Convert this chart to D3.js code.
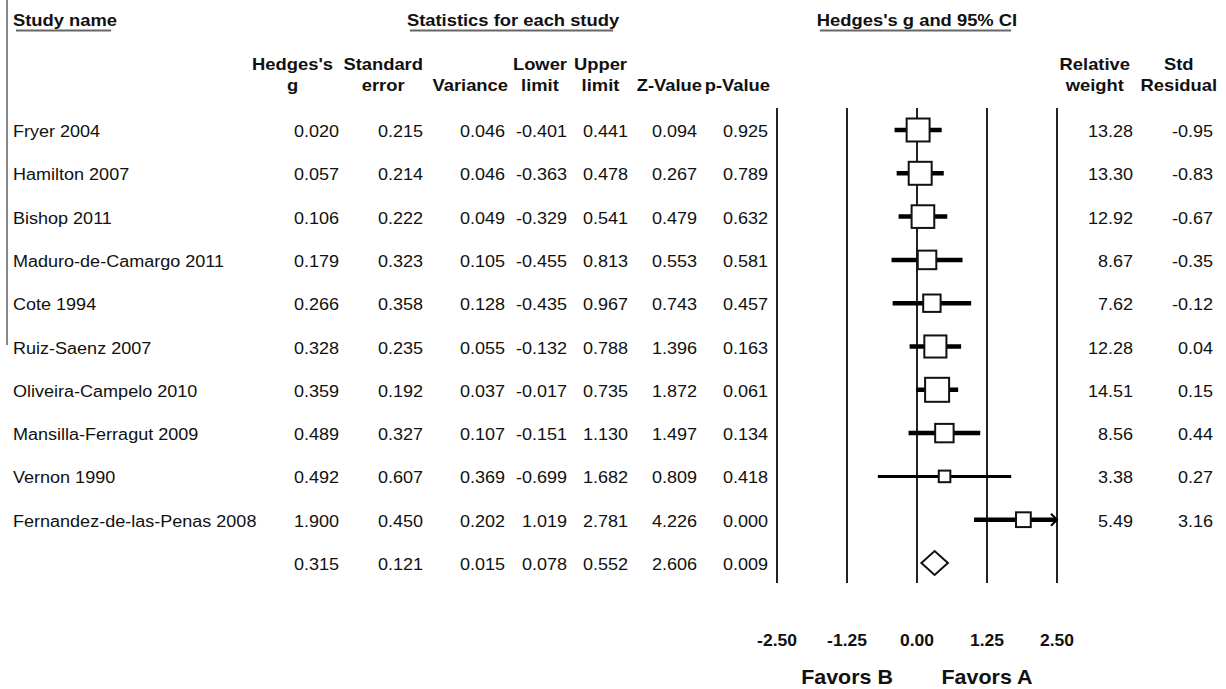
<!DOCTYPE html>
<html>
<head>
<meta charset="utf-8">
<script src="https://cdn.jsdelivr.net/npm/d3@7"></script>
<style>
  html, body { margin: 0; padding: 0; background: #fff; }
  svg { display: block; font-family: "Liberation Sans", Arial, sans-serif; }
</style>
</head>
<body>
<div id="chart"></div>
<script>
// study rows
const studies = ['Fryer 2004', 'Hamilton 2007', 'Bishop 2011', 'Maduro-de-Camargo 2011', 'Cote 1994',
  'Ruiz-Saenz 2007', 'Oliveira-Campelo 2010', 'Mansilla-Ferragut 2009', 'Vernon 1990', 'Fernandez-de-las-Penas 2008'];
const hedgesG   = [0.020, 0.057, 0.106, 0.179, 0.266, 0.328, 0.359, 0.489, 0.492, 1.900];
const stdError  = [0.215, 0.214, 0.222, 0.323, 0.358, 0.235, 0.192, 0.327, 0.607, 0.450];
const variance  = [0.046, 0.046, 0.049, 0.105, 0.128, 0.055, 0.037, 0.107, 0.369, 0.202];
const lowerLim  = [-0.401, -0.363, -0.329, -0.455, -0.435, -0.132, -0.017, -0.151, -0.699, 1.019];
const upperLim  = [0.441, 0.478, 0.541, 0.813, 0.967, 0.788, 0.735, 1.130, 1.682, 2.781];
const zValue    = [0.094, 0.267, 0.479, 0.553, 0.743, 1.396, 1.872, 1.497, 0.809, 4.226];
const pValue    = [0.925, 0.789, 0.632, 0.581, 0.457, 0.163, 0.061, 0.134, 0.418, 0.000];
const relWeight = [13.28, 13.30, 12.92, 8.67, 7.62, 12.28, 14.51, 8.56, 3.38, 5.49];
const stdResid  = [-0.95, -0.83, -0.67, -0.35, -0.12, 0.04, 0.15, 0.44, 0.27, 3.16];

// pooled estimate: g, se, variance, lower, upper, z, p
const summary = [0.315, 0.121, 0.015, 0.078, 0.552, 2.606, 0.009];

const xTicks = [-2.5, -1.25, 0, 1.25, 2.5];
const favorLabels = [{v: -1.25, t: 'Favors B'}, {v: 1.25, t: 'Favors A'}];

const W = 1226, H = 689;
const SX = 1.1; // text in the source is a bit wide
const loc = d3.formatLocale({decimal: '.', thousands: ',', grouping: [3], currency: ['', ''], minus: '-'});
const f3 = loc.format('.3f'), f2 = loc.format('.2f');

const svg = d3.select('#chart').append('svg')
    .attr('width', W)
    .attr('height', H);

function txt(x, y, s, o = {}) {
  return svg.append('text')
      .attr('transform', `translate(${x},${y}) scale(${SX},1)`)
      .attr('text-anchor', o.anchor || 'start')
      .style('font-size', (o.size || 16.4) + 'px')
      .style('font-weight', o.bold ? 'bold' : 'normal')
      .attr('fill', '#111')
      .text(s);
}

// rows: 10 studies + summary
const rowKeys = d3.range(studies.length + 1);
const y = d3.scalePoint().domain(rowKeys).range([130, 563]);
const x = d3.scaleLinear().domain([-2.5, 2.5]).range([777, 1057]);

// gray rule on the far left
svg.append('line')
    .attr('x1', 7).attr('x2', 7).attr('y1', 0).attr('y2', 345)
    .attr('stroke', '#888').attr('stroke-width', 2);

// top titles with underline
const titles = [
  {t: 'Study name', x: 13, anchor: 'start'},
  {t: 'Statistics for each study', x: 513, anchor: 'middle'},
  {t: "Hedges's g and 95% CI", x: 917, anchor: 'middle'}
];
titles.forEach(d => {
  const el = txt(d.x, 26, d.t, {bold: true, size: 16.7, anchor: d.anchor});
  const w = el.node().getComputedTextLength() * SX;
  const x0 = d.anchor === 'middle' ? d.x - w / 2 : d.x;
  svg.append('line')
      .attr('x1', x0 + 3).attr('x2', x0 + w - 6)
      .attr('y1', 30.5).attr('y2', 30.5)
      .attr('stroke', '#666').attr('stroke-width', 2);
});

// column headers (block right edge, lines)
const columns = [
  {lines: ["Hedges's", 'g'], right: 333, numRight: 339, vals: hedgesG, fmt: f3, sum: 0},
  {lines: ['Standard', 'error'], right: 423, numRight: 423, vals: stdError, fmt: f3, sum: 1},
  {lines: ['', 'Variance'], right: 508, numRight: 505, vals: variance, fmt: f3, sum: 2},
  {lines: ['Lower', 'limit'], right: 567, numRight: 567, vals: lowerLim, fmt: f3, sum: 3},
  {lines: ['Upper', 'limit'], right: 627, numRight: 628, vals: upperLim, fmt: f3, sum: 4},
  {lines: ['', 'Z-Value'], right: 702, numRight: 697, vals: zValue, fmt: f3, sum: 5},
  {lines: ['', 'p-Value'], right: 770, numRight: 768, vals: pValue, fmt: f3, sum: 6},
  {lines: ['Relative', 'weight'], right: 1130, numRight: 1133, vals: relWeight, fmt: f2, sum: null},
  {lines: ['Std', 'Residual'], right: 1217, numRight: 1213, vals: stdResid, fmt: f2, sum: null}
];

const headY = [70, 91];
columns.forEach(c => {
  // measure the block width first
  const els = c.lines.map((s, i) => txt(0, headY[i], s, {bold: true, size: 16.7, anchor: 'middle'}));
  const widths = els.map(e => e.node().getComputedTextLength() * SX);
  const bw = d3.max(widths);
  const cx = c.right - bw / 2;
  els.forEach((e, i) => e.attr('transform', `translate(${cx},${headY[i]}) scale(${SX},1)`));

  c.vals.forEach((v, i) => txt(c.numRight, y(i) + 7, c.fmt(v), {anchor: 'end'}));
  if (c.sum !== null) txt(c.numRight, y(studies.length) + 7, c.fmt(summary[c.sum]), {anchor: 'end'});
});

// study names
studies.forEach((s, i) => txt(13, y(i) + 7, s));

// vertical reference lines
svg.append('g').selectAll('line')
    .data(xTicks)
    .join('line')
    .attr('x1', d => x(d)).attr('x2', d => x(d))
    .attr('y1', 108).attr('y2', 583)
    .attr('stroke', '#222').attr('stroke-width', 2);

// tick labels and favors
xTicks.forEach(t => txt(x(t), 646, f2(t), {bold: true, size: 15.9, anchor: 'middle'}));
favorLabels.forEach(d => txt(x(d.v), 684, d.t, {bold: true, size: 19.5, anchor: 'middle'}));

// CI lines
const rows = studies.map((s, i) => ({i, g: hedgesG[i], lo: lowerLim[i], hi: upperLim[i], w: relWeight[i]}));
const ci = svg.append('g');
rows.forEach(d => {
  const hi = Math.min(d.hi, 2.5);
  ci.append('line')
      .attr('x1', x(d.lo)).attr('x2', x(hi))
      .attr('y1', y(d.i)).attr('y2', y(d.i))
      .attr('stroke', '#000').attr('stroke-width', d.w < 4 ? 3 : 4.5);
  if (d.hi > 2.5) {
    ci.append('path')
        .attr('d', `M${x(2.5) - 6},${y(d.i) - 6}L${x(2.5)},${y(d.i)}L${x(2.5) - 6},${y(d.i) + 6}`)
        .attr('fill', 'none').attr('stroke', '#000').attr('stroke-width', 2);
  }
});

// boxes sized by weight
const side = d3.scaleSqrt().domain([0, d3.max(relWeight)]).range([0, 6.3 * Math.sqrt(d3.max(relWeight))]);
svg.append('g').selectAll('rect')
    .data(rows)
    .join('rect')
    .attr('x', d => x(d.g) - side(d.w) / 2)
    .attr('y', d => y(d.i) - side(d.w) / 2)
    .attr('width', d => side(d.w))
    .attr('height', d => side(d.w))
    .attr('fill', '#fff')
    .attr('stroke', '#111')
    .attr('stroke-width', 2);

// pooled diamond
const sy = y(studies.length);
svg.append('path')
    .attr('d', `M${x(summary[3])},${sy}L${x(summary[0])},${sy - 12}L${x(summary[4])},${sy}L${x(summary[0])},${sy + 12}Z`)
    .attr('fill', '#fff')
    .attr('stroke', '#111')
    .attr('stroke-width', 2);
</script>
</body>
</html>
